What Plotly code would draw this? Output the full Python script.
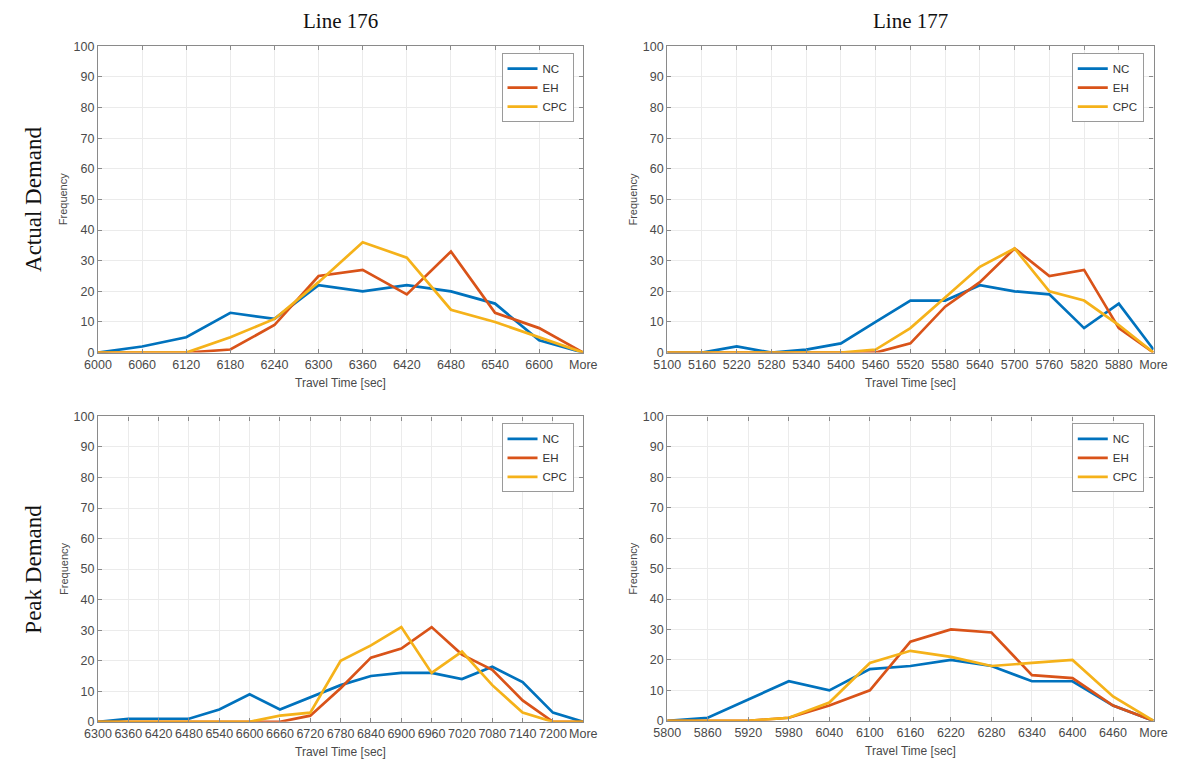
import plotly.graph_objects as go

# ---------------- data ----------------
cats_176_actual = ["6000", "6060", "6120", "6180", "6240", "6300", "6360", "6420", "6480", "6540", "6600", "More"]
nc_176_actual = [0, 2, 5, 13, 11, 22, 20, 22, 20, 16, 4, 0]
eh_176_actual = [0, 0, 0, 1, 9, 25, 27, 19, 33, 13, 8, 0]
cpc_176_actual = [0, 0, 0, 5, 11, 23, 36, 31, 14, 10, 5, 0]

cats_177_actual = ["5100", "5160", "5220", "5280", "5340", "5400", "5460", "5520", "5580", "5640", "5700", "5760", "5820", "5880", "More"]
nc_177_actual = [0, 0, 2, 0, 1, 3, 10, 17, 17, 22, 20, 19, 8, 16, 1]
eh_177_actual = [0, 0, 0, 0, 0, 0, 0, 3, 15, 23, 34, 25, 27, 8, 0]
cpc_177_actual = [0, 0, 0, 0, 0, 0, 1, 8, 18, 28, 34, 20, 17, 9, 0]

cats_176_peak = ["6300", "6360", "6420", "6480", "6540", "6600", "6660", "6720", "6780", "6840", "6900", "6960", "7020", "7080", "7140", "7200", "More"]
nc_176_peak = [0, 1, 1, 1, 4, 9, 4, 8, 12, 15, 16, 16, 14, 18, 13, 3, 0]
eh_176_peak = [0, 0, 0, 0, 0, 0, 0, 2, 11, 21, 24, 31, 22, 17, 7, 0, 0]
cpc_176_peak = [0, 0, 0, 0, 0, 0, 2, 3, 20, 25, 31, 16, 23, 12, 3, 0, 0]

cats_177_peak = ["5800", "5860", "5920", "5980", "6040", "6100", "6160", "6220", "6280", "6340", "6400", "6460", "More"]
nc_177_peak = [0, 1, 7, 13, 10, 17, 18, 20, 18, 13, 13, 5, 0]
eh_177_peak = [0, 0, 0, 1, 5, 10, 26, 30, 29, 15, 14, 5, 0]
cpc_177_peak = [0, 0, 0, 1, 6, 19, 23, 21, 18, 19, 20, 8, 0]

series_names = ["NC", "EH", "CPC"]
y_ticks = [0, 10, 20, 30, 40, 50, 60, 70, 80, 90, 100]

col_titles = ["Line 176", "Line 177"]
row_titles = ["Actual Demand", "Peak Demand"]
x_title = "Travel Time [sec]"
y_title = "Frequency"

# ---------------- style ----------------
W, H = 1190, 771
colors = ["#0072BD", "#D95319", "#F5B21A"]
axis_col = "#8a8a8a"
grid_col = "#ebebeb"
tick_font = dict(family="Liberation Sans, Arial, sans-serif", size=12.5, color="#4a4a4a")

# pixel boxes: (left, right, top, bottom)
boxes = [
    (86, 583, 40, 352),
    (669, 1167, 40, 352),
    (86, 583, 417, 728),
    (669, 1167, 417, 727),
]
panels = [
    (cats_176_actual, [nc_176_actual, eh_176_actual, cpc_176_actual]),
    (cats_177_actual, [nc_177_actual, eh_177_actual, cpc_177_actual]),
    (cats_176_peak, [nc_176_peak, eh_176_peak, cpc_176_peak]),
    (cats_177_peak, [nc_177_peak, eh_177_peak, cpc_177_peak]),
]

fig = go.Figure()
layout = dict(
    width=W, height=H,
    margin=dict(l=0, r=0, t=0, b=0),
    paper_bgcolor="white", plot_bgcolor="white",
    showlegend=True,
)
annotations = []

for i, ((l, r, t, b), (cats, ys)) in enumerate(zip(boxes, panels)):
    idx = "" if i == 0 else str(i + 1)
    xa, ya = "x" + idx, "y" + idx
    leg = "legend" if i == 0 else "legend" + str(i + 1)
    for name, vals, c in zip(series_names, ys, colors):
        fig.add_trace(go.Scatter(
            x=cats, y=vals, mode="lines", name=name,
            line=dict(color=c, width=2.7),
            xaxis=xa, yaxis=ya, legend=leg,
        ))
    layout["xaxis" + idx] = dict(
        domain=[l / W, r / W], anchor=ya, type="category",
        categoryorder="array", categoryarray=cats,
        range=[0, len(cats) - 1], tickangle=0,
        showgrid=True, gridcolor=grid_col, gridwidth=1,
        showline=True, linecolor=axis_col, linewidth=1.2, mirror="ticks",
        ticks="inside", ticklen=4, tickcolor=axis_col,
        tickfont=tick_font, zeroline=False,
    )
    layout["yaxis" + idx] = dict(
        domain=[1 - b / H, 1 - t / H], anchor=xa,
        range=[0, 100], tickvals=y_ticks,
        showgrid=True, gridcolor=grid_col, gridwidth=1,
        showline=True, linecolor=axis_col, linewidth=1.2, mirror="ticks",
        ticks="inside", ticklen=4, tickcolor=axis_col,
        tickfont=tick_font, zeroline=False,
    )
    layout[leg] = dict(
        x=(r - 10) / W, y=1 - (t + 7) / H, xanchor="right", yanchor="top",
        xref="paper", yref="paper",
        bgcolor="white", bordercolor="#9a9a9a", borderwidth=1,
        font=dict(family="Liberation Sans, Arial, sans-serif", size=11.5, color="#333333"),
        tracegroupgap=0, itemwidth=30,
    )
    # axis titles
    annotations.append(dict(
        x=(l + r) / 2 / W, y=1 - (b + 31) / H, xref="paper", yref="paper",
        text=x_title, showarrow=False, xanchor="center", yanchor="middle",
        font=dict(family="Liberation Sans, Arial, sans-serif", size=12, color="#4a4a4a"),
    ))
    annotations.append(dict(
        x=(l - 35) / W, y=1 - (t + b) / 2 / H, xref="paper", yref="paper",
        text=y_title, showarrow=False, textangle=-90, xanchor="center", yanchor="middle",
        font=dict(family="Liberation Sans, Arial, sans-serif", size=11, color="#4a4a4a"),
    ))

# column titles
for j, txt in enumerate(col_titles):
    l, r = boxes[j][0], boxes[j][1]
    annotations.append(dict(
        x=(l + r) / 2 / W, y=1 - 14 / H, xref="paper", yref="paper",
        text=txt, showarrow=False, xanchor="center", yanchor="middle",
        font=dict(family="Liberation Serif, Times New Roman, serif", size=21, color="#111111"),
    ))
# row titles
for k, txt in enumerate(row_titles):
    t, b = boxes[2 * k][2], boxes[2 * k][3]
    annotations.append(dict(
        x=20 / W, y=1 - (t + b) / 2 / H, xref="paper", yref="paper",
        text=txt, showarrow=False, textangle=-90, xanchor="center", yanchor="middle",
        font=dict(family="Liberation Serif, Times New Roman, serif", size=23, color="#111111"),
    ))

layout["annotations"] = annotations
fig.update_layout(**layout)
fig.write_html("out.html")
